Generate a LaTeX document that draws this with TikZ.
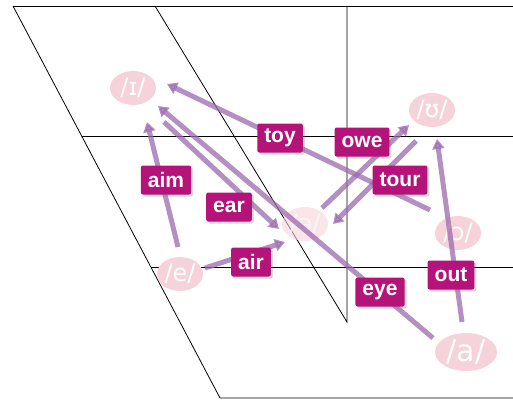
\documentclass[tikz,border=0pt]{standalone}
\usepackage{fontspec}
\setmainfont{Liberation Sans}
\newfontfamily\ipafont{DejaVu Sans}
\usetikzlibrary{positioning,arrows.meta,shapes.geometric,shadows}

\definecolor{boxmag}{HTML}{B5137A}
\definecolor{diphcol}{HTML}{9A6AAE}
\definecolor{vowpink}{HTML}{F6D3DA}

\tikzset{
  vowel/.style={ellipse, fill=vowpink, text=white, minimum width=46pt,
    minimum height=34pt, inner sep=0pt, font=\ipafont\fontsize{24}{26}\selectfont},
  word/.style={rounded corners=2pt, fill=boxmag, text=white, inner xsep=7pt,
    inner ysep=3pt, minimum height=29pt, font=\bfseries\fontsize{21}{24}\selectfont,
    drop shadow={opacity=0.3, shadow xshift=2pt, shadow yshift=-2pt}},
  diph/.style={draw=diphcol, line width=5pt, opacity=0.75,
    -{Triangle[width=12pt,length=10pt]}},
}

\begin{document}
\begin{tikzpicture}[x=1pt, y=-1pt]
  \useasboundingbox (0,0) rectangle (513,401);
  % chart frame
  \draw[line width=0.8pt] (13,6) -- (513,6);
  \draw[line width=0.8pt] (13,6) -- (220,398) -- (513,398);
  \draw[line width=0.8pt] (155,6) -- (347,322) -- (347,6);
  \draw[line width=0.8pt] (82,136) -- (513,136);
  \draw[line width=0.8pt] (151,267) -- (513,267);

  % vowels
  \node[vowel] (vI) at (133,88) {/ɪ/};
  \node[vowel] (vU) at (432,110) {/ʊ/};
  \node[vowel, opacity=0.6] (vSchwa) at (305,224) {/ə/};
  \node[vowel] (vE) at (180,274) {/e/};
  \node[vowel] (vO) at (458,233) {/ɔ/};
  \node[vowel, minimum width=62pt, minimum height=38pt,
    font=\ipafont\fontsize{30}{32}\selectfont] (vA) at (466,352) {/a/};

  % arrow ends
  \coordinate (toyS) at (430,210);  \coordinate (toyE) at (167,84);
  \coordinate (eyeS) at (433,338);  \coordinate (eyeE) at (158,106);
  \coordinate (earS) at (164,122);  \coordinate (earE) at (279,229);
  \coordinate (aimS) at (178,247);  \coordinate (aimE) at (147,122);
  \coordinate (airS) at (205,268);  \coordinate (airE) at (285,242);
  \coordinate (oweS) at (322,208);  \coordinate (oweE) at (409,125);
  \coordinate (tourS) at (416,141); \coordinate (tourE) at (333,224);
  \coordinate (outS) at (462,322);  \coordinate (outE) at (437,139);

  \draw[diph] (toyS) -- (toyE);
  \draw[diph] (eyeS) -- (eyeE);
  \draw[diph] (earS) -- (earE);
  \draw[diph] (aimS) -- (aimE);
  \draw[diph] (airS) -- (airE);
  \draw[diph] (oweS) -- (oweE);
  \draw[diph] (tourS) -- (tourE);
  \draw[diph] (outS) -- (outE);

  % word labels
  \node[word] (lToy) at (280,138) {toy};
  \node[word] (lOwe) at (362,142) {owe};
  \node[word] (lAim) at (166,180) {aim};
  \node[word] (lEar) at (229,207) {ear};
  \node[word] (lTour) at (400,180) {tour};
  \node[word] (lAir) at (251,262) {air};
  \node[word] (lEye) at (380,292) {eye};
  \node[word] (lOut) at (451,275) {out};
\end{tikzpicture}
\end{document}
